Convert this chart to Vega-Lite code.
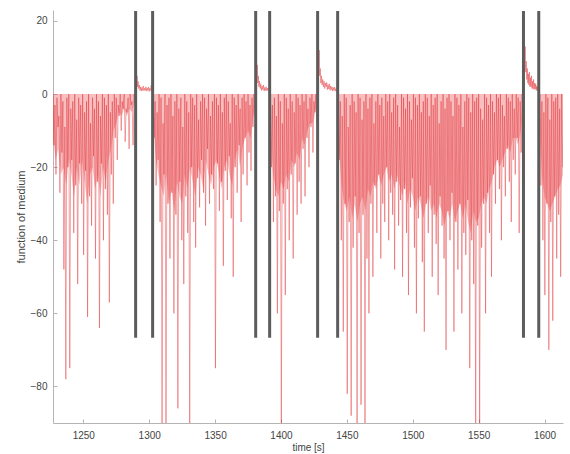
{
  "$schema": "https://vega.github.io/schema/vega-lite/v6.json",
  "width": 510,
  "height": 413,
  "autosize": {"type": "none"},
  "padding": {"left": 53, "top": 10, "right": 7, "bottom": 31},
  "background": "white",
  "config": {
    "view": {"stroke": null},
    "axis": {
      "grid": false,
      "domainColor": "#b4b4b4",
      "tickColor": "#b4b4b4",
      "labelColor": "#444444",
      "labelFont": "Liberation Sans",
      "labelFontSize": 10,
      "titleFont": "Liberation Sans",
      "titleFontWeight": "normal",
      "titleColor": "#444444",
      "titleFontSize": 10
    }
  },
  "datasets": {
    "sig": [
      {"t":1227,"v":0},{"t":1227.75,"v":-14},{"t":1228.5,"v":-3},{"t":1229.25,"v":-22},{"t":1230,"v":-1},{"t":1230.75,"v":-9},{"t":1231.5,"v":-6},{"t":1232.25,"v":-27},{"t":1233,"v":0},{"t":1233.75,"v":-16},{"t":1234.5,"v":-2},{"t":1235.25,"v":-48},{"t":1236,"v":-9},{"t":1236.75,"v":-78},{"t":1237.5,"v":-1},{"t":1238.25,"v":-20},{"t":1239,"v":0},{"t":1239.75,"v":-75},{"t":1240.5,"v":-4},{"t":1241.25,"v":-18},{"t":1242,"v":-2},{"t":1242.75,"v":-38},{"t":1243.5,"v":0},{"t":1244.25,"v":-25},{"t":1245,"v":-7},{"t":1245.75,"v":-52},{"t":1246.5,"v":-1},{"t":1247.25,"v":-19},{"t":1248,"v":-3},{"t":1248.75,"v":-30},{"t":1249.5,"v":0},{"t":1250.25,"v":-44},{"t":1251,"v":-5},{"t":1251.75,"v":-21},{"t":1252.5,"v":-2},{"t":1253.25,"v":-61},{"t":1254,"v":0},{"t":1254.75,"v":-28},{"t":1255.5,"v":-8},{"t":1256.25,"v":-36},{"t":1257,"v":-1},{"t":1257.75,"v":-17},{"t":1258.5,"v":-4},{"t":1259.25,"v":-45},{"t":1260,"v":0},{"t":1260.75,"v":-24},{"t":1261.5,"v":-2},{"t":1262.25,"v":-64},{"t":1263,"v":-6},{"t":1263.75,"v":-19},{"t":1264.5,"v":0},{"t":1265.25,"v":-40},{"t":1266,"v":-1},{"t":1266.75,"v":-26},{"t":1267.5,"v":-3},{"t":1268.25,"v":-33},{"t":1269,"v":0},{"t":1269.75,"v":-57},{"t":1270.5,"v":-5},{"t":1271.25,"v":-22},{"t":1272,"v":-2},{"t":1272.75,"v":-30},{"t":1273.5,"v":0},{"t":1274.25,"v":-12},{"t":1275,"v":-1},{"t":1275.75,"v":-18},{"t":1276.5,"v":-3},{"t":1277.25,"v":-6},{"t":1278,"v":0},{"t":1278.75,"v":-10},{"t":1279.5,"v":-2},{"t":1280.25,"v":-4},{"t":1281,"v":0},{"t":1281.75,"v":-13},{"t":1282.5,"v":-4},{"t":1283.25,"v":-5},{"t":1284,"v":-1},{"t":1284.75,"v":-15},{"t":1285.5,"v":0},{"t":1286.25,"v":-3},{"t":1287,"v":-2},{"t":1287.75,"v":-14},{"t":1288.5,"v":0},{"t":1289.25,"v":-2},
      {"t":1289.6,"v":0},{"t":1290,"v":1.5},{"t":1290.4,"v":3},{"t":1290.8,"v":5},{"t":1291.2,"v":2},{"t":1291.6,"v":3.5},{"t":1292,"v":1.5},{"t":1292.5,"v":2.5},{"t":1293,"v":1},{"t":1293.5,"v":2},{"t":1294,"v":0.8},{"t":1294.5,"v":1.8},{"t":1295,"v":1},{"t":1295.5,"v":2.2},{"t":1296,"v":0.9},{"t":1296.5,"v":1.6},{"t":1297,"v":1},{"t":1297.5,"v":2},{"t":1298,"v":0.8},{"t":1298.5,"v":1.7},{"t":1299,"v":1},{"t":1299.5,"v":1.9},{"t":1300,"v":0.7},{"t":1300.5,"v":1.6},{"t":1301,"v":1},{"t":1301.5,"v":2.4},{"t":1302,"v":1.1},{"t":1302.7,"v":0},
      {"t":1303,"v":0},{"t":1303.75,"v":-12},{"t":1304.5,"v":-2},{"t":1305.25,"v":-25},{"t":1306,"v":-5},{"t":1306.75,"v":-18},{"t":1307.5,"v":0},{"t":1308.25,"v":-35},{"t":1309,"v":-1},{"t":1309.75,"v":-90},{"t":1310.5,"v":-8},{"t":1311.25,"v":-22},{"t":1312,"v":0},{"t":1312.75,"v":-90},{"t":1313.5,"v":-3},{"t":1314.25,"v":-30},{"t":1315,"v":-1},{"t":1315.75,"v":-45},{"t":1316.5,"v":0},{"t":1317.25,"v":-27},{"t":1318,"v":-6},{"t":1318.75,"v":-60},{"t":1319.5,"v":-2},{"t":1320.25,"v":-33},{"t":1321,"v":0},{"t":1321.75,"v":-86},{"t":1322.5,"v":-4},{"t":1323.25,"v":-24},{"t":1324,"v":-1},{"t":1324.75,"v":-40},{"t":1325.5,"v":-9},{"t":1326.25,"v":-52},{"t":1327,"v":0},{"t":1327.75,"v":-28},{"t":1328.5,"v":-2},{"t":1329.25,"v":-38},{"t":1330,"v":-5},{"t":1330.75,"v":-90},{"t":1331.5,"v":0},{"t":1332.25,"v":-20},{"t":1333,"v":-1},{"t":1333.75,"v":-35},{"t":1334.5,"v":-3},{"t":1335.25,"v":-42},{"t":1336,"v":0},{"t":1336.75,"v":-23},{"t":1337.5,"v":-7},{"t":1338.25,"v":-31},{"t":1339,"v":-2},{"t":1339.75,"v":-18},{"t":1340.5,"v":0},{"t":1341.25,"v":-27},{"t":1342,"v":-1},{"t":1342.75,"v":-36},{"t":1343.5,"v":-4},{"t":1344.25,"v":-15},{"t":1345,"v":0},{"t":1345.75,"v":-30},{"t":1346.5,"v":-6},{"t":1347.25,"v":-22},{"t":1348,"v":-2},{"t":1348.75,"v":-26},{"t":1349.5,"v":0},{"t":1350.25,"v":-75},{"t":1351,"v":-1},{"t":1351.75,"v":-19},{"t":1352.5,"v":-3},{"t":1353.25,"v":-32},{"t":1354,"v":0},{"t":1354.75,"v":-24},{"t":1355.5,"v":-5},{"t":1356.25,"v":-47},{"t":1357,"v":-1},{"t":1357.75,"v":-21},{"t":1358.5,"v":0},{"t":1359.25,"v":-29},{"t":1360,"v":-2},{"t":1360.75,"v":-17},{"t":1361.5,"v":-8},{"t":1362.25,"v":-34},{"t":1363,"v":0},{"t":1363.75,"v":-50},{"t":1364.5,"v":-1},{"t":1365.25,"v":-20},{"t":1366,"v":-3},{"t":1366.75,"v":-27},{"t":1367.5,"v":0},{"t":1368.25,"v":-14},{"t":1369,"v":-4},{"t":1369.75,"v":-35},{"t":1370.5,"v":-1},{"t":1371.25,"v":-22},{"t":1372,"v":0},{"t":1372.75,"v":-12},{"t":1373.5,"v":-2},{"t":1374.25,"v":-25},{"t":1375,"v":0},{"t":1375.75,"v":-16},{"t":1376.5,"v":-3},{"t":1377.25,"v":-21},{"t":1378,"v":-1},{"t":1378.75,"v":-9},{"t":1379.5,"v":0},{"t":1380.25,"v":-6},
      {"t":1380.8,"v":0},{"t":1381.2,"v":2},{"t":1381.6,"v":4},{"t":1382,"v":8},{"t":1382.4,"v":3},{"t":1382.8,"v":5},{"t":1383.2,"v":2},{"t":1383.7,"v":3.5},{"t":1384.2,"v":1.5},{"t":1384.7,"v":2.8},{"t":1385.2,"v":1},{"t":1385.7,"v":2.2},{"t":1386.2,"v":1.2},{"t":1386.7,"v":2.5},{"t":1387.2,"v":0.8},{"t":1387.7,"v":1.8},{"t":1388.2,"v":1},{"t":1388.7,"v":2},{"t":1389.2,"v":0.9},{"t":1389.7,"v":1.6},{"t":1390.2,"v":1},{"t":1390.7,"v":1.8},{"t":1391.4,"v":0},
      {"t":1392,"v":0},{"t":1392.75,"v":-20},{"t":1393.5,"v":-3},{"t":1394.25,"v":-35},{"t":1395,"v":-1},{"t":1395.75,"v":-28},{"t":1396.5,"v":-6},{"t":1397.25,"v":-60},{"t":1398,"v":0},{"t":1398.75,"v":-32},{"t":1399.5,"v":-2},{"t":1400.25,"v":-90},{"t":1401,"v":-8},{"t":1401.75,"v":-30},{"t":1402.5,"v":0},{"t":1403.25,"v":-55},{"t":1404,"v":-1},{"t":1404.75,"v":-26},{"t":1405.5,"v":-4},{"t":1406.25,"v":-40},{"t":1407,"v":0},{"t":1407.75,"v":-22},{"t":1408.5,"v":-2},{"t":1409.25,"v":-45},{"t":1410,"v":-5},{"t":1410.75,"v":-19},{"t":1411.5,"v":0},{"t":1412.25,"v":-33},{"t":1413,"v":-1},{"t":1413.75,"v":-24},{"t":1414.5,"v":-3},{"t":1415.25,"v":-30},{"t":1416,"v":0},{"t":1416.75,"v":-15},{"t":1417.5,"v":-2},{"t":1418.25,"v":-28},{"t":1419,"v":0},{"t":1419.75,"v":-12},{"t":1420.5,"v":-4},{"t":1421.25,"v":-20},{"t":1422,"v":-1},{"t":1422.75,"v":-9},{"t":1423.5,"v":0},{"t":1424.25,"v":-16},{"t":1425,"v":-2},{"t":1425.75,"v":-5},{"t":1426.5,"v":0},{"t":1427.25,"v":-8},
      {"t":1427.8,"v":0},{"t":1428.2,"v":3},{"t":1428.6,"v":6},{"t":1429,"v":12},{"t":1429.4,"v":5},{"t":1429.8,"v":7},{"t":1430.2,"v":3},{"t":1430.7,"v":5},{"t":1431.2,"v":2.5},{"t":1431.7,"v":4},{"t":1432.2,"v":2},{"t":1432.7,"v":3.5},{"t":1433.2,"v":1.5},{"t":1433.7,"v":3},{"t":1434.2,"v":2},{"t":1434.7,"v":3.2},{"t":1435.2,"v":1.2},{"t":1435.7,"v":2.6},{"t":1436.2,"v":1.4},{"t":1436.7,"v":2.8},{"t":1437.2,"v":1},{"t":1437.7,"v":2.2},{"t":1438.2,"v":1.2},{"t":1438.7,"v":2},{"t":1439.2,"v":0.8},{"t":1439.7,"v":1.8},{"t":1440.2,"v":1},{"t":1440.7,"v":1.9},{"t":1441.2,"v":0.8},{"t":1441.7,"v":1.5},{"t":1442.2,"v":1},{"t":1443,"v":0},
      {"t":1443.5,"v":0},{"t":1444.25,"v":-18},{"t":1445,"v":-2},{"t":1445.75,"v":-40},{"t":1446.5,"v":-6},{"t":1447.25,"v":-65},{"t":1448,"v":0},{"t":1448.75,"v":-30},{"t":1449.5,"v":-1},{"t":1450.25,"v":-82},{"t":1451,"v":-9},{"t":1451.75,"v":-35},{"t":1452.5,"v":-3},{"t":1453.25,"v":-88},{"t":1454,"v":0},{"t":1454.75,"v":-42},{"t":1455.5,"v":-2},{"t":1456.25,"v":-28},{"t":1457,"v":-5},{"t":1457.75,"v":-90},{"t":1458.5,"v":0},{"t":1459.25,"v":-38},{"t":1460,"v":-1},{"t":1460.75,"v":-85},{"t":1461.5,"v":-7},{"t":1462.25,"v":-33},{"t":1463,"v":-2},{"t":1463.75,"v":-90},{"t":1464.5,"v":0},{"t":1465.25,"v":-45},{"t":1466,"v":-4},{"t":1466.75,"v":-60},{"t":1467.5,"v":-1},{"t":1468.25,"v":-30},{"t":1469,"v":0},{"t":1469.75,"v":-50},{"t":1470.5,"v":-8},{"t":1471.25,"v":-25},{"t":1472,"v":-2},{"t":1472.75,"v":-38},{"t":1473.5,"v":0},{"t":1474.25,"v":-22},{"t":1475,"v":-3},{"t":1475.75,"v":-45},{"t":1476.5,"v":-1},{"t":1477.25,"v":-30},{"t":1478,"v":-6},{"t":1478.75,"v":-35},{"t":1479.5,"v":0},{"t":1480.25,"v":-20},{"t":1481,"v":-2},{"t":1481.75,"v":-40},{"t":1482.5,"v":0},{"t":1483.25,"v":-27},{"t":1484,"v":-5},{"t":1484.75,"v":-33},{"t":1485.5,"v":-1},{"t":1486.25,"v":-48},{"t":1487,"v":0},{"t":1487.75,"v":-24},{"t":1488.5,"v":-3},{"t":1489.25,"v":-36},{"t":1490,"v":-9},{"t":1490.75,"v":-29},{"t":1491.5,"v":0},{"t":1492.25,"v":-50},{"t":1493,"v":-1},{"t":1493.75,"v":-26},{"t":1494.5,"v":-4},{"t":1495.25,"v":-38},{"t":1496,"v":0},{"t":1496.75,"v":-55},{"t":1497.5,"v":-2},{"t":1498.25,"v":-31},{"t":1499,"v":-7},{"t":1499.75,"v":-23},{"t":1500.5,"v":0},{"t":1501.25,"v":-42},{"t":1502,"v":-1},{"t":1502.75,"v":-60},{"t":1503.5,"v":-3},{"t":1504.25,"v":-34},{"t":1505,"v":0},{"t":1505.75,"v":-28},{"t":1506.5,"v":-5},{"t":1507.25,"v":-46},{"t":1508,"v":-2},{"t":1508.75,"v":-65},{"t":1509.5,"v":0},{"t":1510.25,"v":-30},{"t":1511,"v":-1},{"t":1511.75,"v":-38},{"t":1512.5,"v":-6},{"t":1513.25,"v":-25},{"t":1514,"v":0},{"t":1514.75,"v":-50},{"t":1515.5,"v":-3},{"t":1516.25,"v":-33},{"t":1517,"v":-1},{"t":1517.75,"v":-41},{"t":1518.5,"v":0},{"t":1519.25,"v":-55},{"t":1520,"v":-8},{"t":1520.75,"v":-28},{"t":1521.5,"v":-2},{"t":1522.25,"v":-36},{"t":1523,"v":0},{"t":1523.75,"v":-45},{"t":1524.5,"v":-4},{"t":1525.25,"v":-70},{"t":1526,"v":-1},{"t":1526.75,"v":-32},{"t":1527.5,"v":0},{"t":1528.25,"v":-40},{"t":1529,"v":-2},{"t":1529.75,"v":-27},{"t":1530.5,"v":-6},{"t":1531.25,"v":-65},{"t":1532,"v":0},{"t":1532.75,"v":-35},{"t":1533.5,"v":-1},{"t":1534.25,"v":-48},{"t":1535,"v":-3},{"t":1535.75,"v":-30},{"t":1536.5,"v":0},{"t":1537.25,"v":-60},{"t":1538,"v":-9},{"t":1538.75,"v":-38},{"t":1539.5,"v":-2},{"t":1540.25,"v":-44},{"t":1541,"v":0},{"t":1541.75,"v":-29},{"t":1542.5,"v":-1},{"t":1543.25,"v":-75},{"t":1544,"v":-5},{"t":1544.75,"v":-40},{"t":1545.5,"v":0},{"t":1546.25,"v":-52},{"t":1547,"v":-2},{"t":1547.75,"v":-90},{"t":1548.5,"v":-1},{"t":1549.25,"v":-36},{"t":1550,"v":0},{"t":1550.75,"v":-90},{"t":1551.5,"v":-4},{"t":1552.25,"v":-42},{"t":1553,"v":-7},{"t":1553.75,"v":-30},{"t":1554.5,"v":0},{"t":1555.25,"v":-60},{"t":1556,"v":-1},{"t":1556.75,"v":-27},{"t":1557.5,"v":-3},{"t":1558.25,"v":-38},{"t":1559,"v":0},{"t":1559.75,"v":-50},{"t":1560.5,"v":-2},{"t":1561.25,"v":-22},{"t":1562,"v":-5},{"t":1562.75,"v":-30},{"t":1563.5,"v":0},{"t":1564.25,"v":-18},{"t":1565,"v":-1},{"t":1565.75,"v":-26},{"t":1566.5,"v":0},{"t":1567.25,"v":-40},{"t":1568,"v":-3},{"t":1568.75,"v":-20},{"t":1569.5,"v":-6},{"t":1570.25,"v":-28},{"t":1571,"v":0},{"t":1571.75,"v":-15},{"t":1572.5,"v":-1},{"t":1573.25,"v":-24},{"t":1574,"v":-2},{"t":1574.75,"v":-35},{"t":1575.5,"v":0},{"t":1576.25,"v":-18},{"t":1577,"v":-4},{"t":1577.75,"v":-22},{"t":1578.5,"v":0},{"t":1579.25,"v":-12},{"t":1580,"v":-1},{"t":1580.75,"v":-38},{"t":1581.5,"v":-2},{"t":1582.25,"v":-16},{"t":1583,"v":0},{"t":1583.75,"v":-8},
      {"t":1584.1,"v":0},{"t":1584.5,"v":3},{"t":1584.9,"v":8},{"t":1585.3,"v":13},{"t":1585.7,"v":6},{"t":1586.1,"v":9},{"t":1586.5,"v":4},{"t":1586.9,"v":7},{"t":1587.3,"v":3},{"t":1587.7,"v":5.5},{"t":1588.1,"v":2.5},{"t":1588.5,"v":6},{"t":1588.9,"v":2},{"t":1589.3,"v":4.5},{"t":1589.7,"v":2},{"t":1590.1,"v":5},{"t":1590.5,"v":1.5},{"t":1590.9,"v":3.5},{"t":1591.3,"v":1.5},{"t":1591.7,"v":4},{"t":1592.1,"v":1.2},{"t":1592.5,"v":3},{"t":1592.9,"v":1.4},{"t":1593.3,"v":2.8},{"t":1593.7,"v":1},{"t":1594.1,"v":2.2},{"t":1594.5,"v":1},{"t":1594.9,"v":2},{"t":1595.6,"v":0},
      {"t":1596.5,"v":0},{"t":1597.25,"v":-25},{"t":1598,"v":-2},{"t":1598.75,"v":-40},{"t":1599.5,"v":-5},{"t":1600.25,"v":-55},{"t":1601,"v":0},{"t":1601.75,"v":-30},{"t":1602.5,"v":-1},{"t":1603.25,"v":-70},{"t":1604,"v":-7},{"t":1604.75,"v":-35},{"t":1605.5,"v":0},{"t":1606.25,"v":-62},{"t":1607,"v":-2},{"t":1607.75,"v":-28},{"t":1608.5,"v":-1},{"t":1609.25,"v":-45},{"t":1610,"v":0},{"t":1610.75,"v":-33},{"t":1611.5,"v":-4},{"t":1612.25,"v":-50},{"t":1613,"v":0},{"t":1613.75,"v":-20}
    ],
    "band": [
      {"t":1227,"b":-12},{"t":1229,"b":-18},{"t":1231,"b":-15},{"t":1233,"b":-22},{"t":1235,"b":-20},{"t":1237,"b":-25},{"t":1239,"b":-18},{"t":1241,"b":-22},{"t":1243,"b":-28},{"t":1245,"b":-20},{"t":1247,"b":-25},{"t":1249,"b":-18},{"t":1251,"b":-24},{"t":1253,"b":-30},{"t":1255,"b":-22},{"t":1257,"b":-20},{"t":1259,"b":-26},{"t":1261,"b":-22},{"t":1263,"b":-28},{"t":1265,"b":-20},{"t":1267,"b":-24},{"t":1269,"b":-18},{"t":1271,"b":-15},{"t":1273,"b":-10},{"t":1275,"b":-8},{"t":1277,"b":-5},{"t":1279,"b":-6},{"t":1281,"b":-4},{"t":1283,"b":-6},{"t":1285,"b":-4},{"t":1287,"b":-5},{"t":1289,"b":-2},{"t":1289.7,"b":0},
      {"t":1302.6,"b":0},{"t":1303.5,"b":-10},{"t":1305,"b":-18},{"t":1307,"b":-22},{"t":1309,"b":-25},{"t":1311,"b":-28},{"t":1313,"b":-22},{"t":1315,"b":-30},{"t":1317,"b":-26},{"t":1319,"b":-32},{"t":1321,"b":-24},{"t":1323,"b":-28},{"t":1325,"b":-30},{"t":1327,"b":-22},{"t":1329,"b":-26},{"t":1331,"b":-20},{"t":1333,"b":-24},{"t":1335,"b":-28},{"t":1337,"b":-20},{"t":1339,"b":-22},{"t":1341,"b":-26},{"t":1343,"b":-18},{"t":1345,"b":-22},{"t":1347,"b":-25},{"t":1349,"b":-20},{"t":1351,"b":-18},{"t":1353,"b":-22},{"t":1355,"b":-26},{"t":1357,"b":-20},{"t":1359,"b":-18},{"t":1361,"b":-22},{"t":1363,"b":-25},{"t":1365,"b":-18},{"t":1367,"b":-15},{"t":1369,"b":-20},{"t":1371,"b":-14},{"t":1373,"b":-12},{"t":1375,"b":-10},{"t":1377,"b":-12},{"t":1379,"b":-6},{"t":1380.5,"b":-3},{"t":1380.8,"b":0},
      {"t":1391.4,"b":0},{"t":1392,"b":-12},{"t":1394,"b":-22},{"t":1396,"b":-26},{"t":1398,"b":-28},{"t":1400,"b":-24},{"t":1402,"b":-26},{"t":1404,"b":-22},{"t":1406,"b":-24},{"t":1408,"b":-18},{"t":1410,"b":-20},{"t":1412,"b":-16},{"t":1414,"b":-18},{"t":1416,"b":-12},{"t":1418,"b":-14},{"t":1420,"b":-10},{"t":1422,"b":-8},{"t":1424,"b":-8},{"t":1426,"b":-5},{"t":1427.5,"b":-3},{"t":1427.8,"b":0},
      {"t":1443,"b":0},{"t":1444,"b":-15},{"t":1446,"b":-25},{"t":1448,"b":-30},{"t":1450,"b":-32},{"t":1452,"b":-28},{"t":1454,"b":-34},{"t":1456,"b":-30},{"t":1458,"b":-35},{"t":1460,"b":-30},{"t":1462,"b":-28},{"t":1464,"b":-32},{"t":1466,"b":-26},{"t":1468,"b":-28},{"t":1470,"b":-24},{"t":1472,"b":-26},{"t":1474,"b":-22},{"t":1476,"b":-25},{"t":1478,"b":-22},{"t":1480,"b":-20},{"t":1482,"b":-24},{"t":1484,"b":-22},{"t":1486,"b":-26},{"t":1488,"b":-22},{"t":1490,"b":-25},{"t":1492,"b":-28},{"t":1494,"b":-24},{"t":1496,"b":-30},{"t":1498,"b":-26},{"t":1500,"b":-28},{"t":1502,"b":-32},{"t":1504,"b":-28},{"t":1506,"b":-30},{"t":1508,"b":-34},{"t":1510,"b":-30},{"t":1512,"b":-28},{"t":1514,"b":-32},{"t":1516,"b":-30},{"t":1518,"b":-34},{"t":1520,"b":-30},{"t":1522,"b":-32},{"t":1524,"b":-36},{"t":1526,"b":-32},{"t":1528,"b":-34},{"t":1530,"b":-30},{"t":1532,"b":-35},{"t":1534,"b":-32},{"t":1536,"b":-30},{"t":1538,"b":-34},{"t":1540,"b":-30},{"t":1542,"b":-35},{"t":1544,"b":-38},{"t":1546,"b":-32},{"t":1548,"b":-35},{"t":1550,"b":-34},{"t":1552,"b":-30},{"t":1554,"b":-28},{"t":1556,"b":-30},{"t":1558,"b":-26},{"t":1560,"b":-24},{"t":1562,"b":-20},{"t":1564,"b":-18},{"t":1566,"b":-20},{"t":1568,"b":-18},{"t":1570,"b":-16},{"t":1572,"b":-14},{"t":1574,"b":-16},{"t":1576,"b":-12},{"t":1578,"b":-12},{"t":1580,"b":-14},{"t":1582,"b":-10},{"t":1583.8,"b":-4},{"t":1584,"b":0},
      {"t":1595.6,"b":0},{"t":1596.5,"b":-10},{"t":1598,"b":-22},{"t":1600,"b":-28},{"t":1602,"b":-30},{"t":1604,"b":-32},{"t":1606,"b":-30},{"t":1608,"b":-28},{"t":1610,"b":-26},{"t":1612,"b":-25},{"t":1614,"b":-22}
    ],
    "marks": [
      {"t":1289.7},{"t":1302.6},{"t":1380.8},{"t":1391.4},{"t":1427.8},{"t":1443},{"t":1584},{"t":1595.6}
    ]
  },
  "layer": [
    {
      "data": {"name": "band"},
      "mark": {"type": "area", "color": "#e8383d", "opacity": 0.32, "clip": true},
      "encoding": {
        "x": {"field": "t", "type": "quantitative", "scale": {"domain": [1227, 1614], "nice": false, "zero": false},
          "axis": {"title": "time [s]", "format": "d", "values": [1250,1300,1350,1400,1450,1500,1550,1600], "tickSize": -4, "labelPadding": 11, "titlePadding": 2, "labelFlush": false}},
        "y": {"field": "b", "type": "quantitative", "scale": {"domain": [-90, 23], "nice": false, "zero": false},
          "axis": {"title": "function of medium", "titleFontSize": 11, "format": "d", "values": [20,0,-20,-40,-60,-80], "tickSize": -4, "labelPadding": 10, "titlePadding": 4}},
        "y2": {"datum": 0}
      }
    },
    {
      "data": {"name": "sig"},
      "mark": {"type": "line", "color": "#e0262b", "strokeWidth": 0.6, "opacity": 0.7, "clip": true},
      "encoding": {
        "x": {"field": "t", "type": "quantitative"},
        "y": {"field": "v", "type": "quantitative"}
      }
    },
    {
      "data": {"name": "marks"},
      "mark": {"type": "rule", "color": "#5c5c5c", "strokeWidth": 3},
      "encoding": {
        "x": {"field": "t", "type": "quantitative"},
        "y": {"datum": -66.7},
        "y2": {"datum": 22.7}
      }
    }
  ]
}
